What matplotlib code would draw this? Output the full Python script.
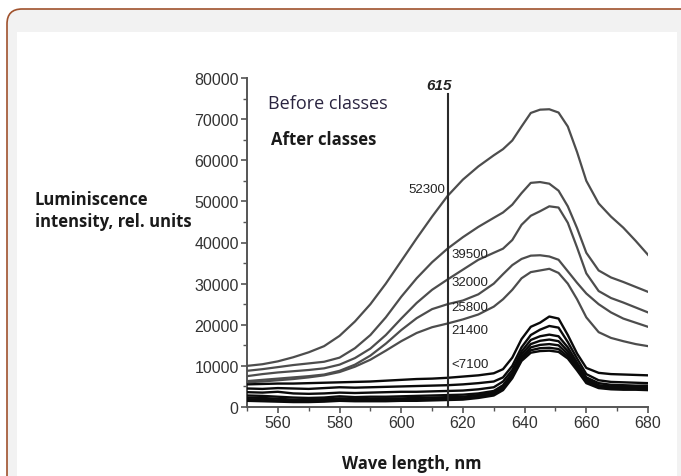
import matplotlib
matplotlib.use("Agg")
import matplotlib.pyplot as plt
from matplotlib.patches import FancyBboxPatch, Rectangle
from matplotlib.ticker import MultipleLocator

# ---------------- data ----------------
wavelength = [550, 555, 560, 565, 570, 575, 580, 585, 590, 595, 600, 605, 610, 615,
              620, 625, 630, 633, 636, 639, 642, 645, 648, 651, 654, 657, 660, 664,
              668, 672, 676, 680]

curve_52300 = [10000, 10400, 11100, 12100, 13300, 14800, 17300, 20800, 25000, 30000, 35500,
               41000, 46300, 51300, 55300, 58500, 61200, 62700, 64800, 68200, 71500, 72300,
               72400, 71600, 68200, 62000, 55000, 49500, 46300, 43600, 40400, 37000]
curve_39500 = [8800, 9200, 9700, 10200, 10600, 11000, 12000, 14300, 17500, 21800, 26800,
               31300, 35200, 38500, 41300, 43800, 46000, 47300, 49200, 52000, 54500, 54700,
               54300, 52600, 48800, 43500, 37500, 33200, 31500, 30400, 29200, 28000]
curve_32000 = [7500, 8000, 8400, 8700, 9000, 9400, 10300, 11900, 14200, 17500, 21500,
               25300, 28500, 31000, 33400, 35800, 37500, 38500, 40600, 44300, 46500, 47600,
               48800, 48500, 44800, 38800, 32500, 28200, 26500, 25400, 24200, 23000]
curve_25800 = [6300, 6600, 6900, 7200, 7500, 7900, 8800, 10300, 12500, 15400, 18700,
               21600, 23800, 25000, 25900, 27400, 30000, 32300, 34500, 36000, 36800, 36900,
               36600, 35800, 33000, 30200, 27600, 25000, 23000, 21500, 20500, 19500]
curve_21400 = [6000, 6200, 6500, 6800, 7200, 7700, 8500, 9800, 11500, 13700, 16000,
               18000, 19400, 20300, 21300, 22500, 24400, 26200, 28500, 31300, 32800, 33200,
               33600, 32600, 30000, 26200, 21800, 18200, 16800, 16000, 15300, 14800]

after_1 = [5500, 5600, 5700, 5700, 5800, 5900, 6000, 6100, 6200, 6400, 6600, 6800, 6900, 7100,
           7400, 7700, 8200, 9200, 12000, 16500, 19500, 20500, 22000, 21500, 17500, 13000,
           9500, 8300, 8000, 7900, 7800, 7700]
after_2 = [4500, 4400, 4600, 4500, 4400, 4600, 4800, 4700, 4800, 4900, 5000, 5100, 5200, 5300,
           5500, 5800, 6200, 7200, 10000, 14500, 17500, 18800, 19700, 19300, 15800, 11800,
           8000, 6500, 6100, 6000, 5900, 5800]
after_3 = [3600, 3500, 3700, 3300, 3200, 3300, 3500, 3400, 3500, 3600, 3700, 3700, 3800, 3900,
           4000, 4300, 4800, 6200, 9000, 13500, 16300, 17200, 17600, 17200, 14500, 10800,
           7200, 5800, 5400, 5300, 5200, 5200]
after_4 = [2800, 2700, 2500, 2300, 2200, 2300, 2600, 2400, 2500, 2500, 2600, 2700, 2800, 2900,
           3000, 3300, 3900, 5300, 8300, 12800, 15300, 16100, 16400, 16000, 13600, 10200,
           6800, 5300, 5000, 4900, 4900, 4800]
after_5 = [2300, 2200, 2000, 1800, 1800, 1900, 2100, 2000, 2000, 2100, 2100, 2200, 2300, 2400,
           2500, 2900, 3500, 4900, 7800, 12200, 14500, 15100, 15300, 15000, 12900, 9700,
           6400, 5000, 4700, 4600, 4600, 4500]
after_6 = [1900, 1800, 1600, 1500, 1500, 1600, 1800, 1700, 1700, 1700, 1800, 1800, 1900, 2000,
           2100, 2500, 3100, 4500, 7400, 11700, 13800, 14300, 14400, 14100, 12300, 9300,
           6100, 4800, 4500, 4400, 4400, 4300]
after_7 = [1500, 1400, 1300, 1200, 1200, 1300, 1500, 1400, 1400, 1400, 1500, 1500, 1600, 1700,
           1800, 2200, 2800, 4100, 7000, 11200, 13200, 13600, 13700, 13400, 11800, 8900,
           5800, 4600, 4300, 4200, 4200, 4100]

before_curves = [curve_52300, curve_39500, curve_32000, curve_25800, curve_21400]
after_curves = [after_1, after_2, after_3, after_4, after_5, after_6, after_7]

marker_wavelength = 615
marker_label = "615"
curve_labels = ["52300", "39500", "32000", "25800", "21400", "<7100"]
curve_label_values = [53000, 37200, 30400, 24300, 18700, 10500]

# ---------------- figure ----------------
W, H = 681, 477
fig = plt.figure(figsize=(W / 100, H / 100), dpi=100)
fig.patch.set_facecolor("white")

# rounded frame
frame = FancyBboxPatch((7 / W, -0.2), (W + 20 - 7) / W, (H - 10) / H + 0.2,
                       boxstyle="round,pad=0,rounding_size=0.022",
                       transform=fig.transFigure, facecolor="#f2f2f2",
                       edgecolor="#a0522d", linewidth=1.2, zorder=0, mutation_aspect=W / H)
fig.patches.append(frame)
panel = Rectangle((17 / W, 0), (677 - 17) / W, (H - 33) / H, transform=fig.transFigure,
                  facecolor="white", edgecolor="none", zorder=0.5)
fig.patches.append(panel)

ax = fig.add_axes([247 / W, (H - 408) / H, (648 - 247) / W, (408 - 79) / H])
ax.set_zorder(2)
ax.set_facecolor("none")

for c in before_curves:
    ax.plot(wavelength, c, color="#4d4d4d", lw=1.6, solid_joinstyle="round", zorder=3)
for c in after_curves:
    ax.plot(wavelength, c, color="#0a0a0a", lw=1.7, solid_joinstyle="round", zorder=4)

ax.plot([marker_wavelength, marker_wavelength], [0, 76200], color="#2a2a2a", lw=1.5, zorder=5)
ax.text(marker_wavelength - 2.8, 78200, marker_label, ha="center", va="center",
        fontsize=11, fontweight="bold", fontstyle="italic", family="Liberation Sans",
        color="#222222", clip_on=False)

# curve labels
ax.text(marker_wavelength - 0.8, curve_label_values[0], curve_labels[0], ha="right",
        va="center", fontsize=9.5, family="Liberation Sans", color="#222222", zorder=6)
for lab, val in zip(curve_labels[1:], curve_label_values[1:]):
    ax.text(marker_wavelength + 1.2, val, lab, ha="left", va="center", fontsize=9.5,
            family="Liberation Sans", color="#222222", zorder=6)

ax.set_xlim(550, 680)
ax.set_ylim(0, 80000)
ax.xaxis.set_minor_locator(MultipleLocator(10))
ax.yaxis.set_major_locator(MultipleLocator(10000))
ax.yaxis.set_minor_locator(MultipleLocator(5000))
ax.set_xticks([560, 580, 600, 620, 640, 660, 680])
for s in ["top", "right"]:
    ax.spines[s].set_visible(False)
for s in ["left", "bottom"]:
    ax.spines[s].set_color("#555555")
    ax.spines[s].set_linewidth(1.4)
ax.tick_params(which="major", direction="out", length=4, width=1.2, color="#555555",
               labelsize=11.5, labelcolor="#333333", pad=2)
ax.tick_params(which="minor", direction="out", length=3, width=1.0, color="#555555")
for lab in ax.get_xticklabels() + ax.get_yticklabels():
    lab.set_family("Liberation Sans")

# annotations
fig.text(268 / W, 1 - 104 / H, "Before classes", fontsize=13, family="Open Sans",
         color="#2a2440", va="center", ha="left")
fig.text(271 / W, 1 - 140 / H, "After classes", fontsize=12, family="Open Sans",
         fontweight="bold", color="#1a1a1a", va="center", ha="left")
fig.text(35 / W, 1 - 200 / H, "Luminiscence", fontsize=12, family="Open Sans",
         fontweight="bold", color="#1a1a1a", va="center", ha="left")
fig.text(35 / W, 1 - 222 / H, "intensity, rel. units", fontsize=12, family="Open Sans",
         fontweight="bold", color="#1a1a1a", va="center", ha="left")
fig.text(412 / W, 1 - 464 / H, "Wave length, nm", fontsize=12, family="Open Sans",
         fontweight="bold", color="#1a1a1a", va="center", ha="center")

fig.savefig("out.png", dpi=100, facecolor=fig.get_facecolor())
